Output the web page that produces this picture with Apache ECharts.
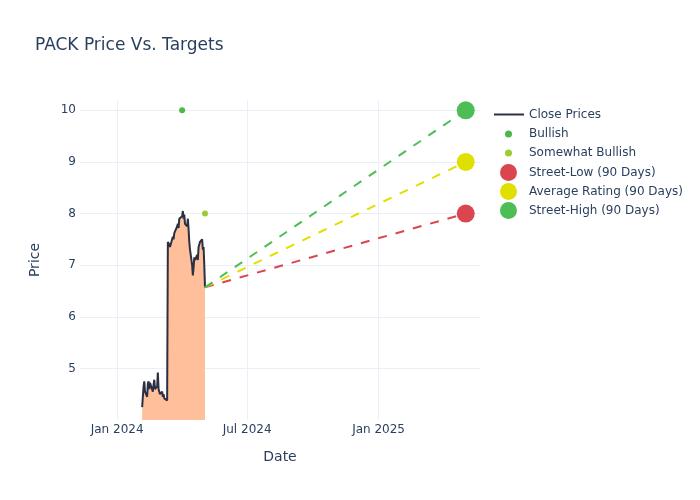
<!DOCTYPE html>
<html>
<head>
<meta charset="utf-8">
<script src="https://cdn.jsdelivr.net/npm/echarts@6/dist/echarts.min.js"></script>
<style>html,body{margin:0;padding:0;background:#fff}#c{width:700px;height:500px}</style>
</head>
<body>
<div id="c"></div>
<script>
// ---- data ----
const closeDates = [
  '2024-02-05','2024-02-06','2024-02-07','2024-02-08','2024-02-09',
  '2024-02-12','2024-02-13','2024-02-14','2024-02-15','2024-02-16',
  '2024-02-20','2024-02-21','2024-02-22','2024-02-23',
  '2024-02-26','2024-02-27','2024-02-28','2024-02-29','2024-03-01',
  '2024-03-04','2024-03-05','2024-03-06','2024-03-07','2024-03-08',
  '2024-03-11','2024-03-12','2024-03-13','2024-03-14','2024-03-15',
  '2024-03-18','2024-03-19','2024-03-20','2024-03-21','2024-03-22',
  '2024-03-25','2024-03-26','2024-03-27','2024-03-28',
  '2024-04-01','2024-04-02','2024-04-03','2024-04-04','2024-04-05',
  '2024-04-08','2024-04-09','2024-04-10','2024-04-11','2024-04-12',
  '2024-04-15','2024-04-16','2024-04-17','2024-04-18','2024-04-19',
  '2024-04-22','2024-04-23','2024-04-24','2024-04-25','2024-04-26',
  '2024-04-29','2024-04-30','2024-05-01','2024-05-02','2024-05-03'
];
const closePrices = [
  4.25, 4.45, 4.65, 4.75, 4.55,
  4.45, 4.70, 4.75, 4.60, 4.72,
  4.55, 4.68, 4.78, 4.60,
  4.65, 4.92, 4.60, 4.55, 4.50,
  4.55, 4.45, 4.50, 4.42, 4.40,
  4.38, 7.45, 7.48, 7.40, 7.35,
  7.50, 7.55, 7.50, 7.62, 7.60,
  7.75, 7.80, 7.72, 7.90,
  7.95, 8.05, 7.90, 7.98, 7.80,
  7.75, 7.90, 7.70, 7.45, 7.30,
  7.00, 6.80, 6.95, 7.15, 7.10,
  7.20, 7.10, 7.35, 7.40, 7.45,
  7.50, 7.30, 7.35, 7.00, 6.57
];
const bullishDates = ['2024-04-01'];
const bullishValues = [10];
const somewhatBullishDates = ['2024-05-03'];
const somewhatBullishValues = [8];
const targetDate = '2025-05-03';
const targetNames = ['Street-Low (90 Days)', 'Average Rating (90 Days)', 'Street-High (90 Days)'];
const targetValues = [8, 9, 10];
const targetColors = ['#d9464f', '#e0e000', '#4cbe55'];
const xTickDates = ['2024-01-01', '2024-07-01', '2025-01-01'];
const yTickValues = [5, 6, 7, 8, 9, 10];

// ---- chart ----
const MONTHS = ['Jan','Feb','Mar','Apr','May','Jun','Jul','Aug','Sep','Oct','Nov','Dec'];
function ts(s){ const p = s.split('-').map(Number); return new Date(p[0], p[1]-1, p[2]).getTime(); }
const txt = '#2a3f5f';
const font = 'DejaVu Sans';

const lastDate = closeDates[closeDates.length-1];
const lastPrice = closePrices[closePrices.length-1];

const series = [
  {
    name: 'Close Prices', type: 'line', showSymbol: false, symbol: 'none',
    data: closeDates.map((d,i)=>[ts(d), closePrices[i]]),
    lineStyle: {color: '#2b3042', width: 2},
    itemStyle: {color: '#2b3042'},
    areaStyle: {color: '#ffbf9b', opacity: 1, origin: 'start'},
    z: 2
  },
  {
    name: 'Bullish', type: 'scatter', symbol: 'circle', symbolSize: 6,
    data: bullishDates.map((d,i)=>[ts(d), bullishValues[i]]),
    itemStyle: {color: '#4cb84c', opacity: 1}, z: 4
  },
  {
    name: 'Somewhat Bullish', type: 'scatter', symbol: 'circle', symbolSize: 6,
    data: somewhatBullishDates.map((d,i)=>[ts(d), somewhatBullishValues[i]]),
    itemStyle: {color: '#9acd32', opacity: 1}, z: 4
  }
];
targetNames.forEach((n,i)=>{
  series.push({
    name: n, type: 'line', symbol: 'circle',
    data: [
      {value: [ts(lastDate), lastPrice], symbolSize: 0},
      {value: [ts(targetDate), targetValues[i]], symbolSize: 18}
    ],
    lineStyle: {color: targetColors[i], width: 2, type: [9, 9]},
    itemStyle: {color: targetColors[i], opacity: 1},
    z: 3
  });
});

const chart = echarts.init(document.getElementById('c'), null, {renderer: 'canvas'});
chart.setOption({
  animation: false,
  backgroundColor: '#fff',
  textStyle: {fontFamily: font},
  title: {
    text: 'PACK Price Vs. Targets', left: 35, top: 37, padding: 0,
    textStyle: {fontFamily: font, fontSize: 17, fontWeight: 'normal', color: txt}
  },
  grid: {left: 80, right: 220, top: 100, bottom: 80, containLabel: false},
  legend: [
    {
      data: [{name: 'Close Prices', icon: 'rect'}],
      left: 494, top: 107.5, padding: 0, orient: 'vertical',
      itemWidth: 30, itemHeight: 2, itemGap: 5,
      textStyle: {fontFamily: font, fontSize: 12, color: txt, lineHeight: 14},
      selectedMode: false
    },
    {
      data: [{name: 'Bullish', icon: 'circle'}, {name: 'Somewhat Bullish', icon: 'circle'}],
      left: 505, top: 127, padding: 0, orient: 'vertical',
      itemWidth: 7, itemHeight: 7, itemGap: 5,
      textStyle: {fontFamily: font, fontSize: 12, color: txt, lineHeight: 14, padding: [0, 0, 0, 12]},
      selectedMode: false
    },
    {
      data: targetNames.map(n=>({name: n, icon: 'circle'})),
      left: 500, top: 164, padding: 0, orient: 'vertical',
      itemWidth: 17, itemHeight: 17, itemGap: 2,
      textStyle: {fontFamily: font, fontSize: 12, color: txt, lineHeight: 14, padding: [0, 0, 0, 7]},
      selectedMode: false
    }
  ],
  xAxis: {
    type: 'value',
    min: ts('2023-11-10'), max: ts('2025-05-23'),
    name: 'Date', nameLocation: 'middle', nameGap: 30,
    nameTextStyle: {fontFamily: font, fontSize: 14, color: txt},
    axisLine: {show: false},
    axisTick: {show: false, customValues: xTickDates.map(ts)},
    axisLabel: {
      customValues: xTickDates.map(ts), margin: 4,
      fontFamily: font, fontSize: 12, color: txt,
      formatter: v => { const d = new Date(v); return MONTHS[d.getMonth()] + ' ' + d.getFullYear(); }
    },
    splitLine: {show: true, lineStyle: {color: '#ebf0f8', width: 1}}
  },
  yAxis: {
    type: 'value', min: 4.0, max: 10.2,
    name: 'Price', nameLocation: 'middle', nameGap: 38,
    nameTextStyle: {fontFamily: font, fontSize: 14, color: txt},
    axisLine: {show: false},
    axisTick: {show: false, customValues: yTickValues},
    axisLabel: {customValues: yTickValues, margin: 4, fontFamily: font, fontSize: 12, color: txt},
    splitLine: {show: true, lineStyle: {color: '#ebf0f8', width: 1}}
  },
  series: series
});
</script>
</body>
</html>
